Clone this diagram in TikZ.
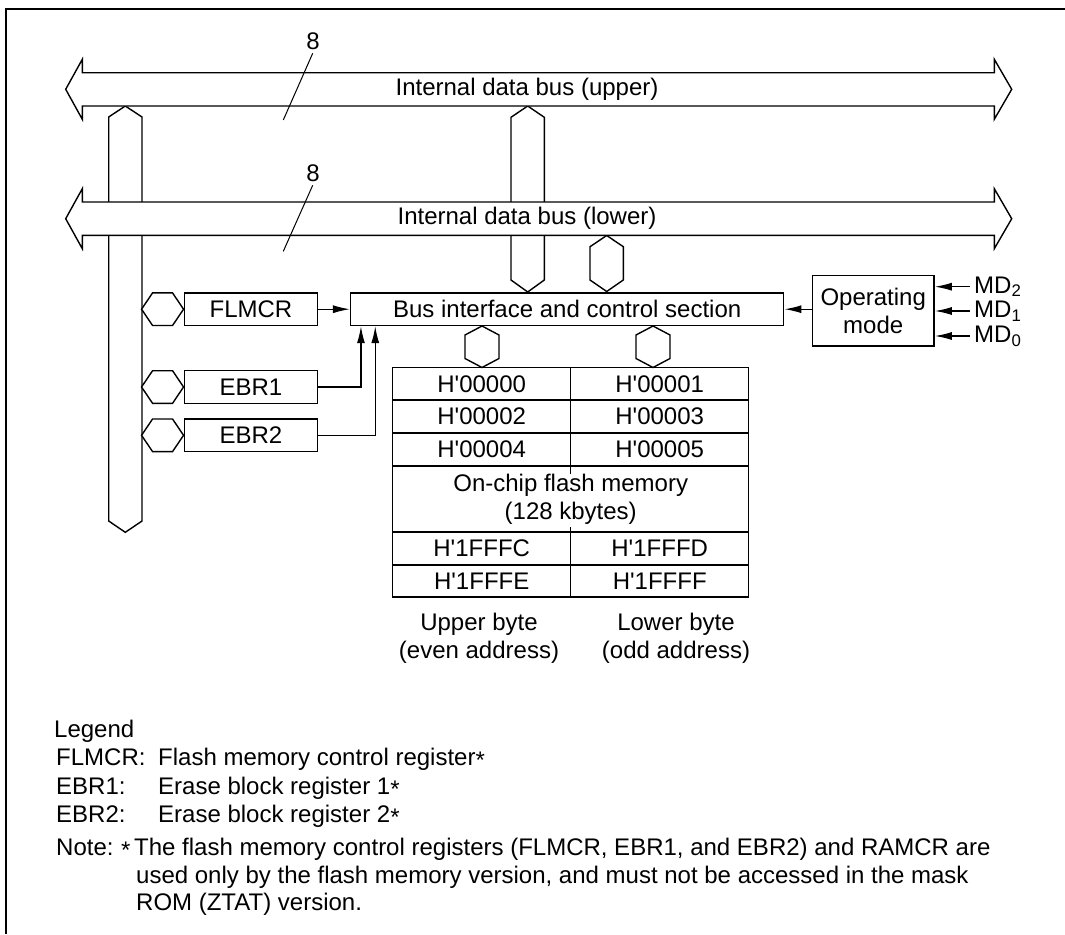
\documentclass[tikz,border=0pt]{standalone}
\usepackage{fontspec}
\setmainfont{Liberation Sans}
\usetikzlibrary{arrows.meta,calc}
\newcommand{\hq}{H\textquotesingle}
\newcommand{\lgast}{\raisebox{-0.14em}{*}}
\begin{document}
\begin{tikzpicture}[x=1pt,y=-1pt,
  every node/.style={font=\fontsize{24}{28.4}\selectfont, inner sep=0pt},
  thinln/.style={line width=1pt},
  arr/.style={line width=1.3pt, -{Latex[length=17pt,width=8pt]}},
  box/.style={draw, line width=1.5pt, fill=white},
  bus/.style={draw, line width=1.4pt, fill=white, line join=miter},
  lg/.style={font=\fontsize{24}{28}\selectfont, anchor=base west},
]
\useasboundingbox (0,0) rectangle (1065,934);
\draw[line width=2.5pt] (6,934) -- (6,9) -- (1065,9);

% vertical buses (drawn first, horizontal buses cover them)
\draw[bus] (108.7,117) -- (125.3,106) -- (142,117) -- (142,521) -- (125.3,532.3) -- (108.7,521) -- cycle;
\draw[bus] (511,117.3) -- (527.7,106) -- (544.3,117.3) -- (544.3,280) -- (527.7,292) -- (511,280) -- cycle;
\draw[bus] (590,246.7) -- (606.7,235.5) -- (623.3,246.7) -- (623.3,280) -- (606.7,291.5) -- (590,280) -- cycle;

% horizontal buses
\draw[bus] (65.7,89.3) -- (82.3,59.3) -- (82.3,72.7) -- (994.3,72.7) -- (994.3,59.3) -- (1011.7,89.3)
  -- (994.3,119.3) -- (994.3,106) -- (82.3,106) -- (82.3,119.3) -- cycle;
\draw[bus] (65.7,218.7) -- (82.3,188.7) -- (82.3,202) -- (994.3,202) -- (994.3,188.7) -- (1011.7,218.7)
  -- (994.3,248.7) -- (994.3,235.3) -- (82.3,235.3) -- (82.3,248.7) -- cycle;
\node (busu) at (527,89.3) {Internal data bus (upper)};
\node (busl) at (527,218.7) {Internal data bus (lower)};

% bit width marks
\node (w1) at (313,41) {8};
\draw[thinln] (312.7,53.3) -- (283.3,120);
\node (w2) at (313,173) {8};
\draw[thinln] (312.7,185.3) -- (283.3,251.3);

% bus interface
\node[box, minimum width=433pt, minimum height=32.5pt] (bic) at (567.2,309.2) {Bus interface and control section};

% registers
\node[box, minimum width=133.4pt, minimum height=32.5pt] (fl) at (251,309.2) {FLMCR};
\node[box, minimum width=133.4pt, minimum height=32.6pt] (e1) at (251,387) {EBR1};
\node[box, minimum width=133.4pt, minimum height=32.6pt] (e2) at (251,435.3) {EBR2};
\foreach \r in {fl,e1,e2}{
  \draw[bus] (\r.west) -- ++(-11,-16.3) -- ++(-20,0) -- ++(-11,16.3) -- ++(11,16.3) -- ++(20,0) -- cycle;
}

\draw[arr] (fl.east) -- (bic.west |- fl.east);
\draw[arr] (e1.east) -| ($(bic.south west)+(11,0)$);
\draw[arr] (e2.east) -| ($(bic.south west)+(25.3,0)$);

% operating mode
\node[box, minimum width=121.7pt, minimum height=70.3pt, align=center] (op) at (873.2,310.8) {Operating\\mode};
\draw[arr] (op.west |- bic.east) -- (bic.east);
\coordinate (m2) at (970,286.7);
\coordinate (m1) at (970,311);
\coordinate (m0) at (970,336);
\draw[arr] (m2) -- (m2 -| op.east);
\draw[arr] (m1) -- (m1 -| op.east);
\draw[arr] (m0) -- (m0 -| op.east);
\node[anchor=west] at ($(m2)+(4,0)$) {MD\textsubscript{2}};
\node[anchor=west] at ($(m1)+(4,0)$) {MD\textsubscript{1}};
\node[anchor=west] at ($(m0)+(4,0)$) {MD\textsubscript{0}};

% memory
\node[box, minimum width=356pt, minimum height=229.5pt] (mem) at (570.7,482.25) {};
\foreach \y in {400,433,466,532,565}{
  \draw[line width=1.5pt] (mem.west |- 0,\y) -- (mem.east |- 0,\y);
}
\draw[line width=1.5pt] (mem.north) -- ++(0,107.5);
\draw[line width=1.5pt] (mem.south) -- ++(0,-71);
% hexagons between bus interface and memory
\foreach \cx in {482,653}{
  \draw[bus] (\cx-17,335) -- (\cx,326) -- (\cx+17,335) -- (\cx+17,358.5) -- (\cx,367.5) -- (\cx-17,358.5) -- cycle;
}
\node at (481.7,383.75) {\hq 00000};
\node at (659.7,383.75) {\hq 00001};
\node at (481.7,416.5) {\hq 00002};
\node at (659.7,416.5) {\hq 00003};
\node at (481.7,449.5) {\hq 00004};
\node at (659.7,449.5) {\hq 00005};
\node[align=center] at (570.7,499) {On-chip flash memory\\(128 kbytes)};
\node at (481.7,548.5) {\hq 1FFFC};
\node at (659.7,548.5) {\hq 1FFFD};
\node at (481.7,581) {\hq 1FFFE};
\node at (659.7,581) {\hq 1FFFF};
\node[align=center] at (479,638) {Upper byte\\(even address)};
\node[align=center] at (676,638) {Lower byte\\(odd address)};

% legend
\node[lg] at (54,737.6) {Legend};
\node[lg] at (56,765.6) {FLMCR:};
\node[lg] at (158,765.6) {Flash memory control register\lgast};
\node[lg] at (56,794.6) {EBR1:};
\node[lg] at (158,794.6) {Erase block register 1\lgast};
\node[lg] at (56,822.6) {EBR2:};
\node[lg] at (158,822.6) {Erase block register 2\lgast};
\node[lg] at (56,855.6) {Note:};
\node[lg] at (121,855.6) {\lgast};
\node[lg] at (134,855.6) {The flash memory control registers (FLMCR, EBR1, and EBR2) and RAMCR are};
\node[lg] at (136,883.6) {used only by the flash memory version, and must not be accessed in the mask};
\node[lg] at (136,910.6) {ROM (ZTAT) version.};
\end{tikzpicture}
\end{document}
